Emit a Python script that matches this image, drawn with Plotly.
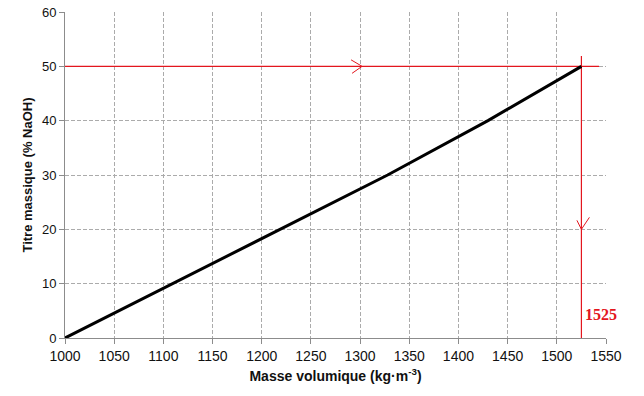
import plotly.graph_objects as go

# Data: density (kg/m3) vs NaOH mass fraction (%)
density = [1000, 1109, 1219, 1328, 1430, 1525]
titre = [0, 10, 20, 30, 40, 50]

# Reading guide (red)
read_y = 50
read_x = 1525
guide_x_end = 1543
guide_y_top = 51.9
h_arrow_x = 1302
v_arrow_y = 20

x_ticks = [1000, 1050, 1100, 1150, 1200, 1250, 1300, 1350, 1400, 1450, 1500, 1550]
y_ticks = [0, 10, 20, 30, 40, 50, 60]
x_range = [1000, 1550]
y_range = [0, 60]

W, H = 644, 396
ML, MR, MT, MB = 65, 38, 12, 58
pw, ph = W - ML - MR, H - MT - MB
px_x = (x_range[1] - x_range[0]) / pw  # data units per pixel
px_y = (y_range[1] - y_range[0]) / ph

RED = "#e3161e"
GRID = "#ababab"

fig = go.Figure()

# red guide lines
fig.add_trace(go.Scatter(x=[x_range[0], guide_x_end], y=[read_y, read_y], mode="lines",
                         line=dict(color=RED, width=1.2), hoverinfo="skip", showlegend=False))
fig.add_trace(go.Scatter(x=[read_x, read_x], y=[guide_y_top, y_range[0]], mode="lines",
                         line=dict(color=RED, width=1.2), hoverinfo="skip", showlegend=False))

# chevrons
hx = [h_arrow_x - 11 * px_x, h_arrow_x, h_arrow_x - 10 * px_x]
hy = [read_y + 6.5 * px_y, read_y, read_y - 7 * px_y]
fig.add_trace(go.Scatter(x=hx, y=hy, mode="lines", line=dict(color=RED, width=1),
                         hoverinfo="skip", showlegend=False))
vx = [read_x - 4.5 * px_x, read_x, read_x + 8 * px_x]
vy = [v_arrow_y + 9 * px_y, v_arrow_y, v_arrow_y + 12 * px_y]
fig.add_trace(go.Scatter(x=vx, y=vy, mode="lines", line=dict(color=RED, width=1),
                         hoverinfo="skip", showlegend=False))

# main curve
fig.add_trace(go.Scatter(x=density, y=titre, mode="lines",
                         line=dict(color="black", width=3), showlegend=False))

fig.add_annotation(x=read_x, y=4.4, text="<b>1525</b>", showarrow=False,
                   xanchor="left", yanchor="middle", xshift=2,
                   font=dict(family="Liberation Serif", size=16, color=RED))

axis_common = dict(showline=True, linecolor="#8c8c8c", linewidth=1,
                   showgrid=True, gridcolor=GRID, griddash="4px,2px", gridwidth=1,
                   ticks="outside", ticklen=5, tickcolor="#8c8c8c", zeroline=False,
                   mirror=False, automargin=False)

fig.update_xaxes(range=x_range, tickvals=x_ticks, ticktext=[str(v) for v in x_ticks],
                 tickfont=dict(family="Liberation Sans", size=14, color="#111"),
                 title=dict(text="<b>Masse volumique (kg·m<sup>-3</sup>)</b>", standoff=8,
                            font=dict(family="Liberation Sans", size=14, color="#111")),
                 **axis_common)
fig.update_yaxes(range=y_range, tickvals=y_ticks,
                 tickfont=dict(family="Liberation Sans", size=13, color="#111"),
                 title=dict(text="<b>Titre massique (% NaOH)</b>", standoff=6,
                            font=dict(family="Liberation Sans", size=13, color="#111")),
                 **axis_common)

fig.update_layout(width=W, height=H, margin=dict(l=ML, r=MR, t=MT, b=MB, autoexpand=False),
                  plot_bgcolor="white", paper_bgcolor="white", showlegend=False)

fig.write_html("out.html")
